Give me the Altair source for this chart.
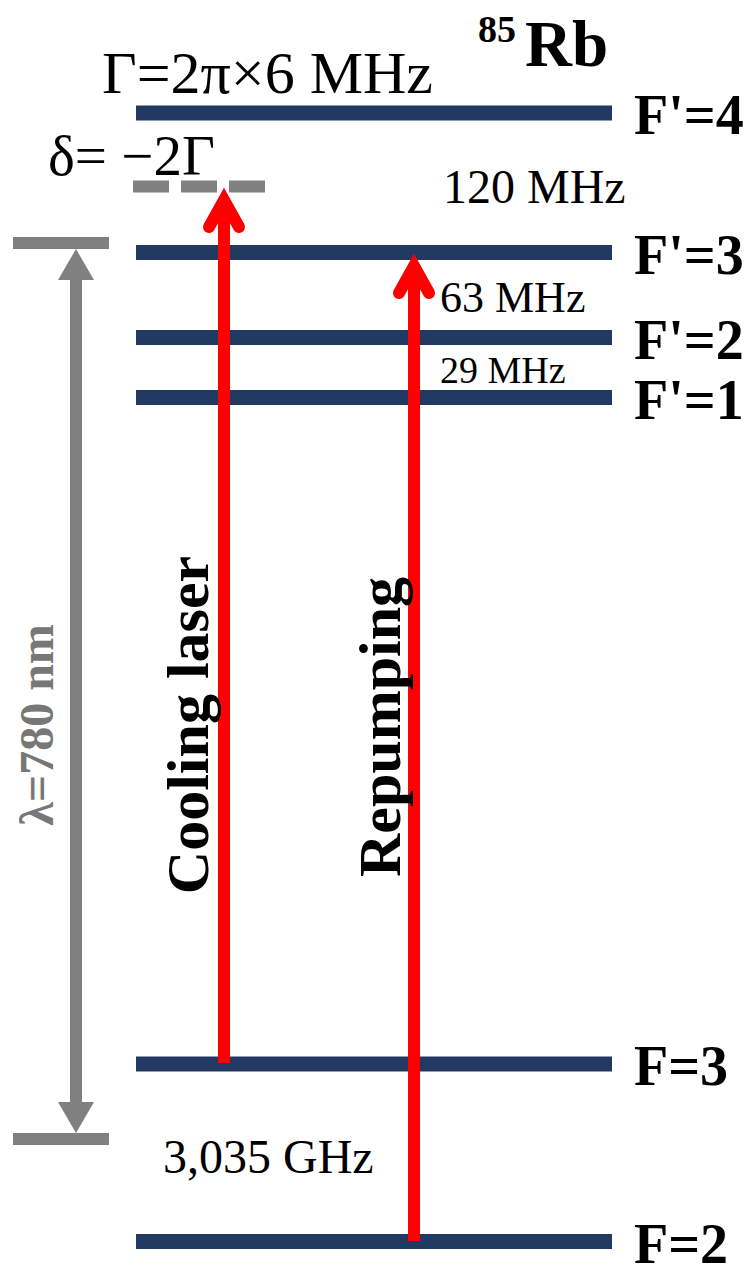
import altair as alt
import pandas as pd

# ---------------- data (diagram coordinates) ----------------
level_names = ["F'=4", "F'=3", "F'=2", "F'=1", "F=3", "F=2"]
level_pos = [113, 252.5, 337.5, 397.5, 1064, 1241.5]
level_left = 136
level_right = 612
label_left = 634

detuned_pos = 186.5
detuned_span = [133, 265]

laser_names = ["Cooling laser", "Repumping"]
laser_x = [224, 414]
laser_start = [1063, 1241]
laser_tip = [187, 253]
laser_label_x = [208, 400]
laser_label_y = [725, 727]

split_text = ["120 MHz", "63 MHz", "29 MHz", "3,035 GHz"]
split_x = [443, 440, 440, 163]
split_y = [203, 312, 383, 1173]
split_size = [48, 44, 38, 48]

lambda_x = 76
lambda_caps = [243, 1139]
lambda_cap_span = [13, 109]
lambda_heads = [249, 1133]          # arrow tips
lambda_label = "λ=780 nm"
lambda_label_pos = (53, 725)

title_sup, title_main = "85", "Rb"
gamma_text = "Γ=2π×6 MHz"
delta_text = "δ= −2Γ"

FONT = "Liberation Serif"
NAVY = "#223962"
GRAY = "#808080"
RED = "#ff0000"

# ---------------- scales ----------------
XS = alt.Scale(domain=[8, 747], nice=False, zero=False)
YS = alt.Scale(domain=[8, 1267], nice=False, zero=False, reverse=True)


def X(f):
    return alt.X(f, type="quantitative", scale=XS, axis=None)


def Y(f):
    return alt.Y(f, type="quantitative", scale=YS, axis=None)


# ---------------- frames ----------------
levels = pd.DataFrame({
    "name": level_names,
    "y": level_pos,
    "x0": [level_left] * len(level_names),
    "x1": [level_right] * len(level_names),
    "lx": [label_left] * len(level_names),
})
levels["ly"] = levels["y"] + 21

detuned = pd.DataFrame({"x0": [detuned_span[0]], "x1": [detuned_span[1]], "y": [detuned_pos]})

HEAD_OFF, ARM_DX, ARM_DY = 13, 15, 27
lasers = pd.DataFrame({"name": laser_names, "x": laser_x, "y0": laser_start,
                       "tip": laser_tip})
lasers["y1"] = lasers["tip"] + HEAD_OFF
head_rows = []
for n, x, t in zip(laser_names, laser_x, laser_tip):
    apex = t + HEAD_OFF
    head_rows += [
        {"name": n, "o": 0, "x": x - ARM_DX, "y": apex + ARM_DY},
        {"name": n, "o": 1, "x": x, "y": apex},
        {"name": n, "o": 2, "x": x + ARM_DX, "y": apex + ARM_DY},
    ]
heads = pd.DataFrame(head_rows)
laser_labels = pd.DataFrame({"name": laser_names, "x": laser_label_x, "y": laser_label_y})

splits = pd.DataFrame({"t": split_text, "x": split_x, "y": split_y, "s": split_size})

caps = pd.DataFrame({"y": lambda_caps, "x0": [lambda_cap_span[0]] * 2,
                     "x1": [lambda_cap_span[1]] * 2})
TRI_H = 31
shaft = pd.DataFrame({"x": [lambda_x], "y0": [lambda_heads[0] + TRI_H],
                      "y1": [lambda_heads[1] - TRI_H]})
tri_up = pd.DataFrame({"x": [lambda_x], "y": [lambda_heads[0] + TRI_H / 2]})
tri_dn = pd.DataFrame({"x": [lambda_x], "y": [lambda_heads[1] - TRI_H / 2]})
lam = pd.DataFrame({"t": [lambda_label], "x": [lambda_label_pos[0]], "y": [lambda_label_pos[1]]})

texts_reg = pd.DataFrame({"t": [gamma_text, delta_text], "x": [102, 48], "y": [93, 175],
                          "s": [60, 57]})
texts_bold = pd.DataFrame({"t": [title_sup, title_main], "x": [478, 525], "y": [42, 66],
                           "s": [38, 65]})

# ---------------- layers ----------------
bars = alt.Chart(levels).mark_rule(color=NAVY, strokeWidth=15).encode(
    x=X("x0"), x2="x1", y=Y("y"))
bar_labels = alt.Chart(levels).mark_text(
    align="left", baseline="alphabetic", font=FONT, fontSize=56, fontWeight="bold",
    color="black").encode(x=X("lx"), y=Y("ly"), text="name:N")

dash = alt.Chart(detuned).mark_rule(color=GRAY, strokeWidth=12, strokeDash=[36, 12]).encode(
    x=X("x0"), x2="x1", y=Y("y"))

lam_caps = alt.Chart(caps).mark_rule(color=GRAY, strokeWidth=12).encode(
    x=X("x0"), x2="x1", y=Y("y"))
lam_shaft = alt.Chart(shaft).mark_rule(color=GRAY, strokeWidth=12).encode(
    x=X("x"), y=Y("y0"), y2="y1")
up_shape = "M0,-0.861L1,0.861L-1,0.861Z"
dn_shape = "M0,0.861L1,-0.861L-1,-0.861Z"
lam_up = alt.Chart(tri_up).mark_point(shape=up_shape, filled=True, size=1296, color=GRAY,
                                      opacity=1, strokeWidth=0).encode(x=X("x"), y=Y("y"))
lam_dn = alt.Chart(tri_dn).mark_point(shape=dn_shape, filled=True, size=1296, color=GRAY,
                                      opacity=1, strokeWidth=0).encode(x=X("x"), y=Y("y"))
lam_text = alt.Chart(lam).mark_text(
    align="center", baseline="alphabetic", font=FONT, fontSize=48, fontWeight="bold",
    color="#777777", angle=270).encode(x=X("x"), y=Y("y"), text="t:N")

laser_shafts = alt.Chart(lasers).mark_rule(color=RED, strokeWidth=12).encode(
    x=X("x"), y=Y("y0"), y2="y1")
laser_heads = alt.Chart(heads).mark_line(
    color=RED, strokeWidth=12, strokeCap="round", strokeJoin="miter").encode(
    x=X("x"), y=Y("y"), detail="name:N", order="o:Q")
laser_text = alt.Chart(laser_labels).mark_text(
    align="center", baseline="alphabetic", font=FONT, fontSize=60, fontWeight="bold",
    color="black", angle=270).encode(x=X("x"), y=Y("y"), text="name:N")

split_layer = alt.Chart(splits).mark_text(
    align="left", baseline="alphabetic", font=FONT, color="black").encode(
    x=X("x"), y=Y("y"), text="t:N", size=alt.Size("s:Q", scale=None, legend=None))

reg_layer = alt.Chart(texts_reg).mark_text(
    align="left", baseline="alphabetic", font=FONT, color="black").encode(
    x=X("x"), y=Y("y"), text="t:N", size=alt.Size("s:Q", scale=None, legend=None))
bold_layer = alt.Chart(texts_bold).mark_text(
    align="left", baseline="alphabetic", font=FONT, fontWeight="bold", color="black").encode(
    x=X("x"), y=Y("y"), text="t:N", size=alt.Size("s:Q", scale=None, legend=None))

chart = alt.layer(
    bars, dash, lam_caps, lam_shaft, lam_up, lam_dn, lam_text,
    laser_shafts, laser_heads, laser_text,
    bar_labels, split_layer, reg_layer, bold_layer,
).properties(
    width=739, height=1259, padding=0,
    autosize=alt.AutoSizeParams(type="none"),
).configure_view(stroke=None)

chart.save("out.html", embed_options={"renderer": "svg", "actions": False})
